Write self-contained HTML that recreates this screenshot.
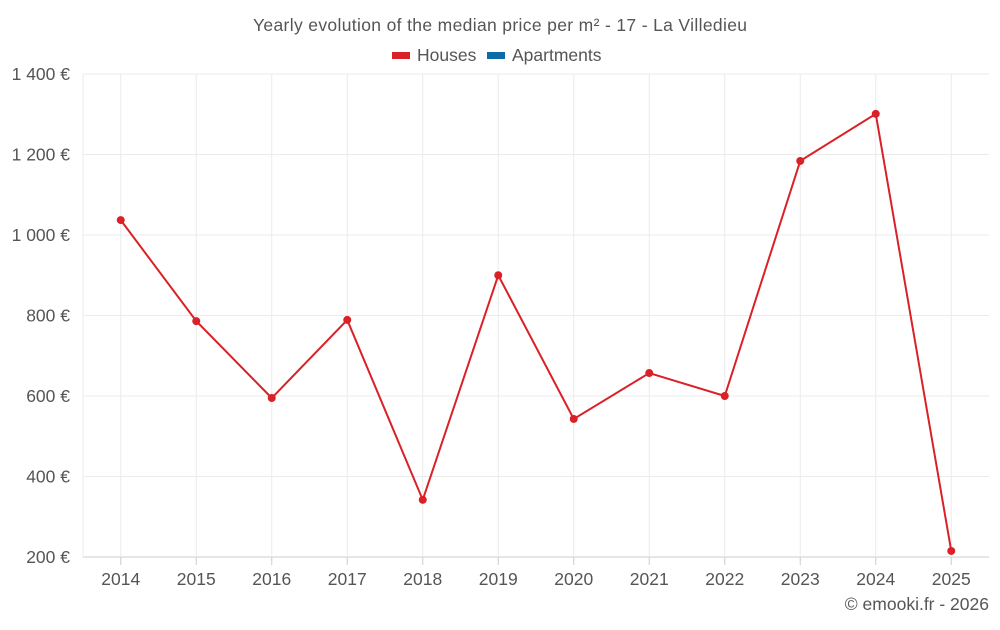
<!DOCTYPE html>
<html><head><meta charset="utf-8"><style>
body{margin:0;background:#fff;font-family:"Liberation Sans",sans-serif}
svg text{font-family:"Liberation Sans",sans-serif}
</style></head><body>
<svg id="c" width="1000" height="625">
<text x="500" y="31" text-anchor="middle" font-size="17.5" fill="#555" textLength="494">Yearly evolution of the median price per m² - 17 - La Villedieu</text>
<g>
<g><rect x="392" y="52" width="18" height="7" fill="#d92127"/><text x="417" y="61" font-size="17.5" fill="#555">Houses</text></g>
<g><rect x="487" y="52" width="18" height="7" fill="#0f6ba8"/><text x="512" y="61" font-size="17.5" fill="#555">Apartments</text></g>
</g>
<g id="grid"></g><g id="axes"></g><g id="series"></g>
<text x="989" y="610" text-anchor="end" font-size="17.5" fill="#555">© emooki.fr - 2026</text>
</svg>
<script>
const years=["2014","2015","2016","2017","2018","2019","2020","2021","2022","2023","2024","2025"];
const houses=[1037,786,595,789,342,900,543,657,600,1184,1301,215];
const yTicks=[200,400,600,800,1000,1200,1400];
const yTickLabels=["200 €","400 €","600 €","800 €","1 000 €","1 200 €","1 400 €"];
const NS="http://www.w3.org/2000/svg";
const L=83,R=989,T=74,B=557,yMin=200,yMax=1400;
const step=(R-L)/years.length;
const x=i=>L+step*(i+0.5);
const y=v=>B-(v-yMin)/(yMax-yMin)*(B-T);
function mk(tag,at,parent){const e=document.createElementNS(NS,tag);for(const k in at)e.setAttribute(k,at[k]);document.getElementById(parent).appendChild(e);return e;}
yTicks.forEach((t,i)=>{
 const g=mk('line',{x1:L,x2:R,y1:y(t),y2:y(t),stroke:i==0?'#ccc':'#ebebeb','stroke-width':1},'grid');
 
 
 const tx=mk('text',{x:70,y:y(t)+6,'text-anchor':'end','font-size':17.5,fill:'#555'},'axes');
 tx.textContent=yTickLabels[i];
 
 
});
mk('line',{x1:L,x2:L,y1:T,y2:B,stroke:'#ebebeb'},'grid');
years.forEach((yr,i)=>{
 const g=mk('line',{x1:x(i),x2:x(i),y1:T,y2:B,stroke:'#ebebeb'},'grid');
 
 
 const tk=mk('line',{x1:x(i),x2:x(i),y1:B,y2:B+8,stroke:'#ccc'},'axes');
 
 
 const tx=mk('text',{x:x(i),y:585,'text-anchor':'middle','font-size':17.5,fill:'#555'},'axes');
 tx.textContent=yr;
 
 
});
const pl=mk('polyline',{points:houses.map((v,i)=>x(i)+','+y(v)).join(' '),fill:'none',stroke:'#d92127','stroke-width':2},'series');


houses.forEach((v,i)=>{
 const c=mk('circle',{cx:x(i),cy:y(v),r:4,fill:'#d92127'},'series');
 
 
});
</script>
</body></html>
